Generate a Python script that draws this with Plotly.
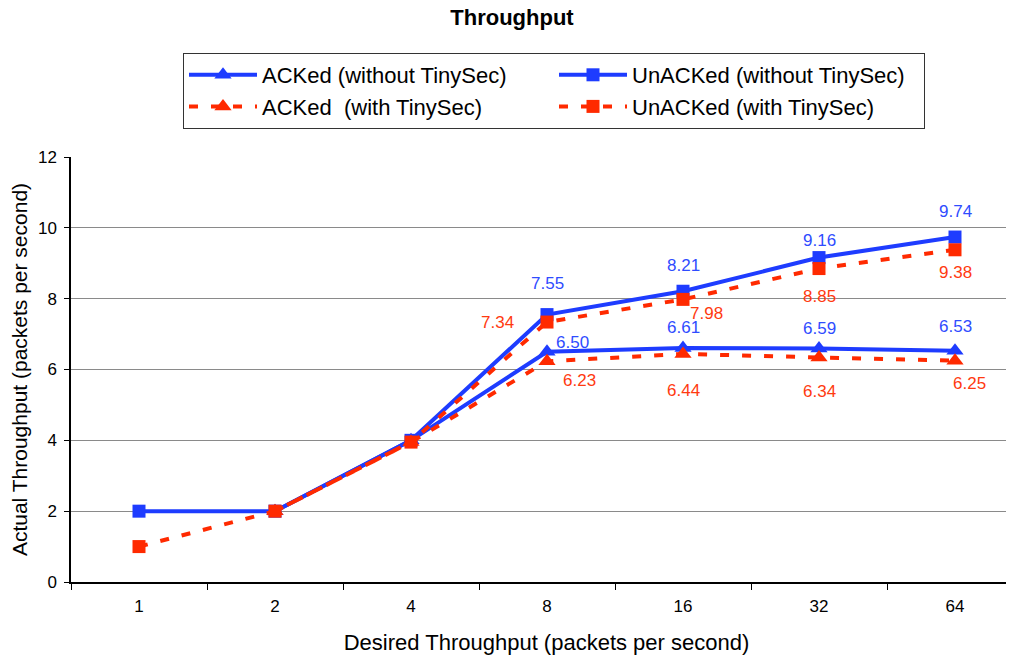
import plotly.graph_objects as go

categories = ["1", "2", "4", "8", "16", "32", "64"]
acked_without = [None, 2.0, 4.0, 6.50, 6.61, 6.59, 6.53]
unacked_without = [2.0, 2.0, 4.0, 7.55, 8.21, 9.16, 9.74]
acked_with = [None, 2.0, 3.95, 6.23, 6.44, 6.34, 6.25]
unacked_with = [1.0, 2.0, 3.95, 7.34, 7.98, 8.85, 9.38]
y_ticks = [0, 2, 4, 6, 8, 10, 12]

# which points carry a data label (index >= 3)
label_from = 3

BLUE = "#1e3cff"
RED = "#ff2a00"
FONT = "Liberation Sans, Arial, Helvetica, sans-serif"

# page body has an 8px margin, so the figure is laid out 8px up/left of screen positions
L, T, PLOT_BOTTOM = 63, 149, 574
PLOT_W = 1014 - L
PLOT_H = PLOT_BOTTOM - T

fig = go.Figure()
fig.add_trace(go.Scatter(x=categories, y=acked_without, name="ACKed (without TinySec)",
                         mode="lines+markers",
                         line=dict(color=BLUE, width=4),
                         marker=dict(symbol="triangle-up", size=15, color=BLUE)))
fig.add_trace(go.Scatter(x=categories, y=unacked_without, name="UnACKed (without TinySec)",
                         mode="lines+markers",
                         line=dict(color=BLUE, width=4),
                         marker=dict(symbol="square", size=13, color=BLUE)))
fig.add_trace(go.Scatter(x=categories, y=acked_with, name="ACKed  (with TinySec)",
                         mode="lines+markers",
                         line=dict(color=RED, width=4, dash="9px,13px"),
                         marker=dict(symbol="triangle-up", size=15, color=RED)))
fig.add_trace(go.Scatter(x=categories, y=unacked_with, name="UnACKed (with TinySec)",
                         mode="lines+markers",
                         line=dict(color=RED, width=4, dash="9px,13px"),
                         marker=dict(symbol="square", size=13, color=RED)))

# label offsets (pixels) per labelled point
off_unacked_without = [(0, 31), (0, 26), (0, 17), (0, 26)]
off_acked_without = [(25, 9), (0, 20), (0, 20), (0, 24)]
off_acked_with = [(32, -19), (0, -37), (0, -34), (14, -23)]
off_unacked_with = [(-50, 0), (23, -14), (0, -28), (0, -23)]

label_color_blue = "#2f4cff"
label_color_red = "#ff3a10"

for series, offs, col in [
    (unacked_without, off_unacked_without, label_color_blue),
    (acked_without, off_acked_without, label_color_blue),
    (acked_with, off_acked_with, label_color_red),
    (unacked_with, off_unacked_with, label_color_red),
]:
    for k, i in enumerate(range(label_from, len(categories))):
        fig.add_annotation(x=i, y=series[i], xref="x", yref="y", text=f"{series[i]:.2f}",
                           showarrow=False, xshift=offs[k][0], yshift=offs[k][1],
                           font=dict(family=FONT, size=17, color=col))

fig.update_layout(
    width=1014, height=658,
    margin=dict(l=L, r=0, t=T, b=658 - PLOT_BOTTOM, autoexpand=False),
    paper_bgcolor="white", plot_bgcolor="white",
    font=dict(family=FONT, color="black"),
    title=dict(text="<b>Throughput</b>", x=504 / 1014, xref="container", xanchor="center",
               y=1 - 2 / 658, yref="container", yanchor="top",
               font=dict(family=FONT, size=22, color="black")),
    showlegend=True,
    legend=dict(orientation="h", x=(175 - L) / PLOT_W, xanchor="left",
                y=(PLOT_BOTTOM - 45) / PLOT_H, yanchor="top",
                bordercolor="#333333", borderwidth=1, bgcolor="white",
                entrywidth=287, entrywidthmode="pixels", itemwidth=68,
                font=dict(family=FONT, size=22, color="black"),
                traceorder="normal"),
    xaxis=dict(type="category", range=[-0.5, -0.5 + PLOT_W / 136],
               showgrid=False, showline=True, linecolor="black", linewidth=1.5,
               ticks="outside", tickson="boundaries", ticklen=6, tickcolor="black",
               tickfont=dict(family=FONT, size=17, color="black"),
               ticklabelstandoff=8, automargin=False,
               title=dict(text="Desired Throughput (packets per second)",
                          font=dict(family=FONT, size=22, color="black"), standoff=19),
               zeroline=False),
    yaxis=dict(range=[0, 12], tickvals=y_ticks, showgrid=True, gridcolor="#8a8a8a",
               gridwidth=1, showline=True, linecolor="black", linewidth=1.5,
               ticks="outside", ticklen=5, tickcolor="black",
               tickfont=dict(family=FONT, size=17, color="black"), automargin=False,
               ticklabelstandoff=4,
               title=dict(text="Actual Throughput (packets per second)",
                          font=dict(family=FONT, size=21, color="black"), standoff=10),
               zeroline=False),
)

fig.write_html("out.html")
